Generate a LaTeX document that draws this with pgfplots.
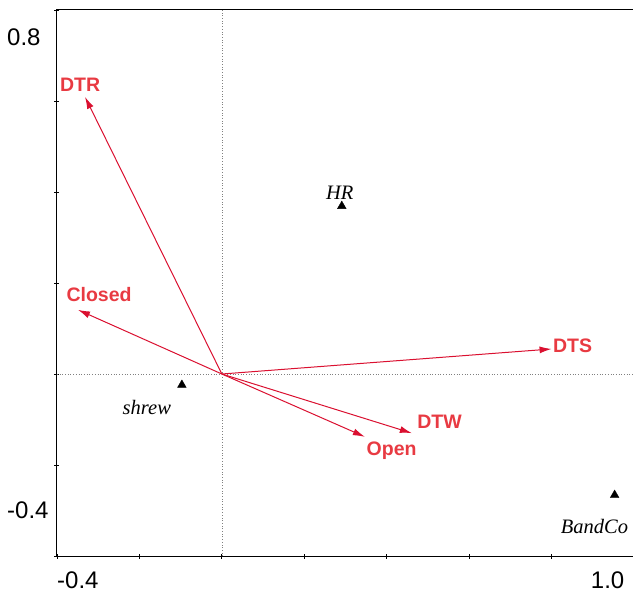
\documentclass[border=0pt]{standalone}
\usepackage{pgfplots}
\pgfplotsset{compat=1.18}
\usepackage{fontspec}
\setmainfont{Liberation Sans}
\newfontfamily\tnr{Liberation Serif}
\usetikzlibrary{arrows.meta}
\definecolor{arr}{RGB}{218,16,48}
\definecolor{lab}{RGB}{232,58,66}
\begin{document}
\begin{tikzpicture}
\begin{axis}[
  scale only axis, width=577pt, height=546pt,
  xmin=-0.4, xmax=1.0, ymin=-0.4, ymax=0.8,
  xtick={-0.4,-0.2,0,0.2,0.4,0.6,0.8,1.0},
  ytick={-0.4,-0.2,0,0.2,0.4,0.6,0.8},
  xticklabels={}, yticklabels={},
  xtick pos=left, ytick pos=left,
  tick align=center, major tick length=5pt,
  tick style={black, line width=0.8pt},
  axis line style={black, line width=1pt},
  clip=false,
]
\addplot[gray, dotted, line width=0.7pt] coordinates {(0,-0.4) (0,0.8)};
\addplot[gray, dotted, line width=0.7pt] coordinates {(-0.4,0) (1.0,0)};
% arrows
\addplot[arr, line width=1pt, -{Latex[length=12pt,width=7pt]}] coordinates {(0,0) (-0.332,0.609)};
\addplot[arr, line width=1pt, -{Latex[length=12pt,width=7pt]}] coordinates {(0,0) (-0.349,0.141)};
\addplot[arr, line width=1pt, -{Latex[length=12pt,width=7pt]}] coordinates {(0,0) (0.800,0.055)};
\addplot[arr, line width=1pt, -{Latex[length=12pt,width=7pt]}] coordinates {(0,0) (0.461,-0.130)};
\addplot[arr, line width=1pt, -{Latex[length=12pt,width=7pt]}] coordinates {(0,0) (0.347,-0.138)};
% species points
\addplot[only marks, mark=triangle*, mark size=5pt, black] coordinates {(0.291,0.369) (-0.097,-0.024) (0.953,-0.266)};
% labels
\begin{scope}[every node/.style={font=\fontsize{19.5}{21}\selectfont\bfseries, text=lab, inner sep=0pt}]
\node at (axis cs:-0.344,0.635) {DTR};
\node at (axis cs:-0.298,0.174) {Closed};
\node at (axis cs:0.851,0.062) {DTS};
\node at (axis cs:0.528,-0.105) {DTW};
\node at (axis cs:0.412,-0.169) {Open};
\end{scope}
\begin{scope}[every node/.style={font=\tnr\itshape\fontsize{20.5}{22}\selectfont, inner sep=0pt}]
\node at (axis cs:0.286,0.398) {HR};
\node at (axis cs:-0.182,-0.073) {shrew};
\node at (axis cs:0.904,-0.336) {BandCo};
\end{scope}
% tick labels
\begin{scope}[every node/.style={font=\fontsize{24}{26}\selectfont, inner sep=0pt}]
\node[anchor=west, xshift=-50pt] at (axis cs:-0.4,0.741) {0.8};
\node[anchor=west, xshift=-50pt] at (axis cs:-0.4,-0.299) {-0.4};
\node[anchor=west, yshift=-24pt] at (axis cs:-0.4,-0.4) {-0.4};
\node[anchor=east, yshift=-24pt] at (axis cs:0.977,-0.4) {1.0};
\end{scope}
\end{axis}
\pgfresetboundingbox
\path ([shift={(-57pt,-37pt)}]current axis.south west) rectangle ([shift={(-1pt,10pt)}]current axis.north east);
\end{tikzpicture}
\end{document}
